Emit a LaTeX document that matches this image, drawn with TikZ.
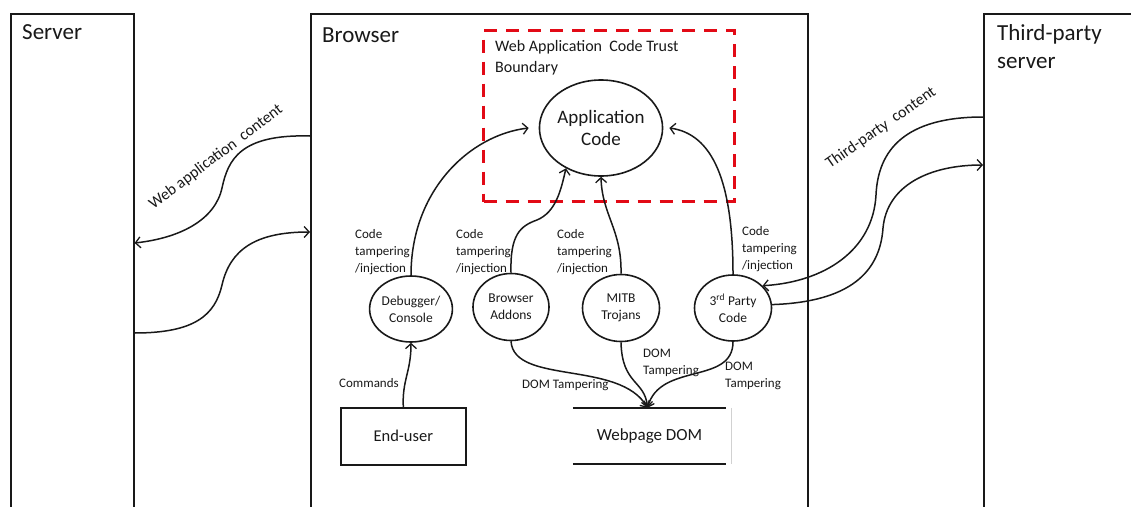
\documentclass[tikz,border=0pt]{standalone}
\usepackage{fontspec}
\setmainfont{Carlito}
\usetikzlibrary{shapes.geometric,arrows.meta,calc}
\definecolor{tred}{RGB}{226,10,22}
\definecolor{ink}{RGB}{25,25,25}
\begin{document}
\begin{tikzpicture}[x=1pt,y=-1pt,color=ink,
  box/.style={draw,line width=1.6pt,rectangle,inner sep=0pt,anchor=north west},
  proc/.style={draw,line width=1.6pt,ellipse,inner sep=0pt,align=center,font=\fontsize{13.5}{17}\selectfont},
  lbl/.style={inner sep=0pt,anchor=base west,align=left,font=\fontsize{13}{17}\selectfont},
  arr/.style={line width=1.5pt,-{Straight Barb[length=5pt,width=11pt,line width=1.3pt]}},
  ttl/.style={inner sep=0pt,anchor=base west,font=\fontsize{23}{28}\selectfont,align=left},
  rot/.style={inner sep=0pt,font=\fontsize{16}{19}\selectfont}
]
\clip (0,0) rectangle (1131,506);
\fill[white] (0,0) rectangle (1131,506);

% swimlane boxes
\node[box,minimum width=123pt,minimum height=520pt] (server) at (10,13) {};
\node[box,minimum width=497pt,minimum height=520pt] (browser) at (310,13) {};
\node[box,minimum width=200pt,minimum height=520pt] (tps) at (983,13) {};

% trust boundary
\node[draw=tred,line width=3pt,dash pattern=on 13pt off 9pt,rectangle,inner sep=0pt,anchor=north west,
      minimum width=251pt,minimum height=171pt] (trust) at (482,29) {};

% titles (anchor = baseline of last line)
\node[ttl] (tserver) at (22,39) {Server};
\node[ttl] (tbrowser) at (322,42) {Browser};
\node[ttl] (ttps) at (997,68) {Third-party\\server};
\node[inner sep=0pt,anchor=base west,align=left,font=\fontsize{16}{21}\selectfont] (ttrust) at (495,72) {Web Application\ \ Code Trust\\Boundary};

% processes
\node[proc,minimum width=112pt,minimum height=96pt,font=\fontsize{19}{22}\selectfont] (app) at (601,128) {Application\\Code};
\node[proc,minimum width=76pt,minimum height=66pt] (dbg) at (411,309) {Debugger/\\Console};
\node[proc,minimum width=76pt,minimum height=67pt] (addons) at (511,307) {Browser\\Addons};
\node[proc,minimum width=77pt,minimum height=67pt] (mitb) at (621,308) {MITB\\Trojans};
\node[proc,minimum width=77pt,minimum height=66pt] (tpc) at (733,308) {3\textsuperscript{rd} Party\\Code};

% end-user and DOM
\node[box,minimum width=125pt,minimum height=57pt,font=\fontsize{16.5}{20}\selectfont] (user) at (340,407) {End-user};
\node[inner sep=0pt,minimum width=153pt,minimum height=56pt,font=\fontsize{17}{20}\selectfont] (dom) at (649.5,436) {Webpage DOM};
\draw[line width=1.8pt] (dom.north west) -- (dom.north east);
\draw[line width=1.8pt] (dom.south west) -- (dom.south east);
\draw[black!18,line width=0.6pt] ($(dom.north east)+(5,0)$) -- ($(dom.south east)+(5,0)$);

% connection points
\coordinate (b1) at ($(browser.north west)+(0,123)$);
\coordinate (b2) at ($(browser.north west)+(0,219)$);
\coordinate (s1) at ($(server.north east)+(0,230)$);
\coordinate (s2) at ($(server.north east)+(0,320)$);
\coordinate (t1) at ($(tps.north west)+(0,104)$);
\coordinate (t2) at ($(tps.north west)+(0,152)$);
\coordinate (domin) at ($(dom.north)+(-2,0)$);

% server <-> browser
\draw[arr] (b1) .. controls (240,134) and (228,160) .. (222,188) .. controls (215,220) and (180,238) .. (s1);
\draw[arr] (s2) .. controls (195,333) and (215,315) .. (222,285) .. controls (230,250) and (255,232) .. (b2);

% third party
\draw[arr] (t1) .. controls (905,117) and (878,150) .. (876,195) .. controls (873,250) and (825,282) .. (tpc.37);
\draw[arr] (tpc.5) .. controls (850,302) and (880,272) .. (883,228) .. controls (887,185) and (930,165) .. (t2);

% code tampering
\draw[arr] (dbg.north) .. controls (411,190) and (470,135) .. ($(app.west)+(-10,0)$);
\draw[arr] (addons.north) .. controls (510,235) and (520,226) .. (537,220) .. controls (556,212) and (561,190) .. (app.229);
\draw[arr] (mitb.north) .. controls (622,230) and (602,215) .. (app.south);
\draw[arr] (tpc.north) .. controls (733,180) and (712,134) .. ($(app.east)+(6,0)$);

% commands
\draw[arr] (user.north) .. controls (402,380) and (411,372) .. (dbg.south);

% DOM tampering
\draw[arr] (addons.south) .. controls (514,385) and (620,360) .. (domin);
\draw[arr] (mitb.south) .. controls (622,385) and (645,380) .. (domin);
\draw[arr] (tpc.south) .. controls (733,385) and (660,362) .. (domin);

% labels (anchor = baseline of last line)
\node[lbl] (l1) at (355,272) {Code\\tampering\\/injection};
\node[lbl] (l2) at (456,272) {Code\\tampering\\/injection};
\node[lbl] (l3) at (557,272) {Code\\tampering\\/injection};
\node[lbl] (l4) at (742,269) {Code\\tampering\\/injection};
\node[lbl] (lcmd) at (339,387) {Commands};
\node[lbl] (ld1) at (522,388) {DOM Tampering};
\node[lbl] (ld2) at (643,374) {DOM\\Tampering};
\node[lbl] (ld3) at (725,387) {DOM\\Tampering};
\node[rot,rotate=37] (lweb) at (216,157) {Web application\ \ content};
\node[rot,rotate=35] (ltp) at (881,128) {Third-party\ \ content};
\end{tikzpicture}
\end{document}
